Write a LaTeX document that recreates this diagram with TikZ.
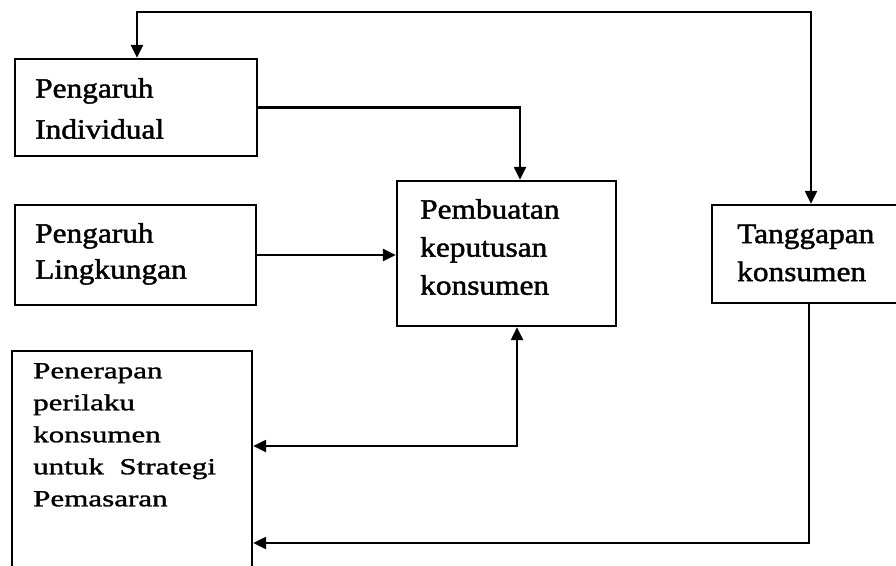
\documentclass[tikz,border=0pt]{standalone}
\usepackage{fontspec}
\setmainfont{Liberation Serif}[FakeStretch=1.12,FakeBold=1.6]
\newfontfamily\penfont{Liberation Serif}[FakeStretch=1.35,FakeBold=1.3]
\usetikzlibrary{arrows.meta}
\begin{document}
\begin{tikzpicture}[x=1pt,y=-1pt,
  boxnode/.style={draw=black, line width=2.4pt, inner sep=0pt, rectangle},
  txt/.style={anchor=north west, inner sep=0pt, align=left},
  conn/.style={draw=black, line width=2.4pt},
  arr/.style={conn, -{Triangle[length=13pt,width=12pt]}},
  arrboth/.style={conn, {Triangle[length=13pt,width=12pt]}-{Triangle[length=13pt,width=12pt]}}
]
\clip (0,0) rectangle (896,565);
\fill[white] (0,0) rectangle (896,565);

% boxes
\node[boxnode, minimum width=242pt, minimum height=97pt] (ind) at (136,107.5) {};
\node[boxnode, minimum width=241pt, minimum height=100pt] (lin) at (135.5,255) {};
\node[boxnode, minimum width=219pt, minimum height=145pt] (pem) at (506.5,253.5) {};
\node[boxnode, minimum width=200pt, minimum height=98pt] (tan) at (812,254) {};
\node[boxnode, minimum width=240pt, minimum height=240pt] (pen) at (132,471) {};

% texts
\node[txt, font=\fontsize{28}{41}\selectfont] (tind) at (35,78) {Pengaruh\\Individual};
\node[txt, font=\fontsize{28}{36}\selectfont] (tlin) at (35,223) {Pengaruh\\Lingkungan};
\node[txt, font=\fontsize{28}{38}\selectfont] (tpem) at (420,199) {Pembuatan\\keputusan\\konsumen};
\node[txt, font=\fontsize{28}{38}\selectfont] (ttan) at (737,224.5) {Tanggapan\\konsumen};
\node[txt, font=\penfont\fontsize{23}{32}\selectfont] (tpen) at (33,363) {Penerapan\\perilaku\\konsumen\\untuk~~Strategi\\Pemasaran};

% connectors
\coordinate (tl) at (137,12);
\coordinate (tr) at (811,12);
\draw[arr] (tr) -- (tl) -- (tl |- ind.north);
\draw[arr] (tl) -- (tr) -- (tr |- tan.north);
\draw[arr] (ind.east) -| ([xshift=13.5pt]pem.north);
\draw[arr] (lin.east) -- (lin.east -| pem.west);
\coordinate (m1) at (0,446);
\coordinate (m2) at (0,543);
\draw[arrboth] ([xshift=10.5pt]pem.south) |- (pen.east |- m1);
\draw[arr] ([xshift=-3pt]tan.south) |- (pen.east |- m2);
\end{tikzpicture}
\end{document}
